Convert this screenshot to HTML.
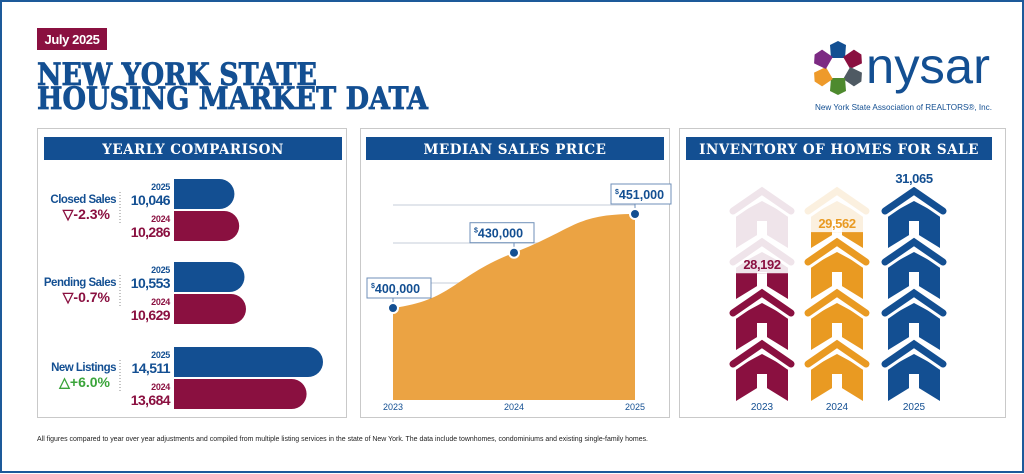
<!DOCTYPE html>
<html><head><meta charset="utf-8"><style>
html,body{margin:0;padding:0;background:#fff;}
svg{display:block;}
text{font-family:"Liberation Sans",sans-serif;}
.slab{font-family:"DejaVu Serif","Liberation Serif",serif;font-weight:bold;}
</style></head><body>
<svg id="root" width="1024" height="474" viewBox="0 0 1024 474" xmlns="http://www.w3.org/2000/svg">
<rect x="1" y="1" width="1022" height="471" fill="#fff" stroke="#1d5a9a" stroke-width="2"/>
<g>
<rect x="37" y="28" width="70" height="22" fill="#8a1040"/>
<text x="72" y="44" fill="#fff" font-size="13" font-weight="bold" text-anchor="middle" letter-spacing="-0.4">July 2025</text>
</g>
<g fill="#134f92" stroke="#134f92" stroke-width="0.8">
<text class="slab" x="37" y="85" font-size="31" textLength="280" lengthAdjust="spacingAndGlyphs">NEW YORK STATE</text>
<text class="slab" x="37" y="109" font-size="31" textLength="391" lengthAdjust="spacingAndGlyphs">HOUSING MARKET DATA</text>
</g>
<g>
<g id="petals"></g>
<text x="866" y="83" font-size="50" fill="#134f92" textLength="124" lengthAdjust="spacingAndGlyphs">nysar</text>
<text x="815" y="110" font-size="8.2" fill="#134f92" textLength="177" lengthAdjust="spacingAndGlyphs">New York State Association of REALTORS®, Inc.</text>
</g>
<g>
<rect x="37.5" y="128.5" width="309" height="289" fill="#fff" stroke="#c9c9c9"/>
<rect x="44" y="137" width="298" height="23" fill="#134f92"/>
<text class="slab" x="193" y="154" font-size="13.5" fill="#fff" text-anchor="middle" letter-spacing="0.5">YEARLY COMPARISON</text>
<g id="yc"></g>
</g>
<g>
<rect x="360.5" y="128.5" width="309" height="289" fill="#fff" stroke="#c9c9c9"/>
<rect x="366" y="137" width="298" height="23" fill="#134f92"/>
<text class="slab" x="515" y="154" font-size="13.5" fill="#fff" text-anchor="middle" letter-spacing="0.5">MEDIAN SALES PRICE</text>
<g id="msp"></g>
</g>
<g>
<rect x="679.5" y="128.5" width="326" height="289" fill="#fff" stroke="#c9c9c9"/>
<rect x="686" y="137" width="306" height="23" fill="#134f92"/>
<text class="slab" x="839" y="154" font-size="13.5" fill="#fff" text-anchor="middle" letter-spacing="0.5">INVENTORY OF HOMES FOR SALE</text>
<g id="inv"></g>
</g>
<text x="37" y="441" font-size="7.6" fill="#222" textLength="611" lengthAdjust="spacingAndGlyphs">All figures compared to year over year adjustments and compiled from multiple listing services in the state of New York.  The data include townhomes, condominiums and existing single-family homes.</text>
</svg>
<script>
// ---- Yearly comparison data ----
const ycMetrics = ["Closed Sales","Pending Sales","New Listings"];
const ycValues2025 = [10046,10553,14511];
const ycValues2024 = [10286,10629,13684];
const ycLabels2025 = ["10,046","10,553","14,511"];
const ycLabels2024 = ["10,286","10,629","13,684"];
const ycChange = ["-2.3%","-0.7%","+6.0%"];
// ---- Median sales price data ----
const mspYears = ["2023","2024","2025"];
const mspValues = [400000,430000,451000];
const mspLabels = ["400,000","430,000","451,000"];
// ---- Inventory data ----
const invYears = ["2023","2024","2025"];
const invValues = [28192,29562,31065];
const invLabels = ["28,192","29,562","31,065"];

const NS="http://www.w3.org/2000/svg";
function mk(tag,attrs,parent){const e=document.createElementNS(NS,tag);for(const k in attrs)e.setAttribute(k,attrs[k]);if(parent)parent.appendChild(e);return e;}
const BLUE="#134f92",MAROON="#8a1040",ORANGE="#e99a22";

// logo petals
(function(){
  const g=document.getElementById('petals');
  const cols=["#134f92","#8a1040","#4f5a63","#4e8a2e","#ee9a2a","#7c2a83"];
  const cx=838,cy=68;
  for(let i=0;i<6;i++){
    const a=(-90+i*60)*Math.PI/180;
    const px=cx+17*Math.cos(a),py=cy+17*Math.sin(a);
    const p=mk('path',{d:`M${px-8},${py-6}L${px},${py-10}L${px+8},${py-6}L${px+7},${py+7}L${px-7},${py+7}Z`,fill:cols[i],transform:`rotate(${i*60} ${px} ${py})`},g);
    
    
  }
})();

// yearly comparison bars
(function(){
  const g=document.getElementById('yc');
  const x0=174, dMin=7000, dMax=14511, wMax=149;
  const xs=v=>(v-dMin)/(dMax-dMin)*wMax;
  const groupTop=[179,262,347];
  ycMetrics.forEach((m,i)=>{
    const t=groupTop[i];
    [[ycValues2025[i],ycLabels2025[i],"2025",BLUE,t],[ycValues2024[i],ycLabels2024[i],"2024",MAROON,t+32]].forEach(([v,l,y,c,top])=>{
      const w=xs(v),h=30,r=15;
      const b=mk('path',{d:`M${x0},${top}H${x0+w-r}A${r},${r} 0 0 1 ${x0+w-r},${top+h}H${x0}Z`,fill:c},g);
      
      
      const yt=mk('text',{x:170,y:top+11,'font-size':9,'font-weight':'bold',fill:c,'text-anchor':'end','letter-spacing':'-0.3'},g);yt.textContent=y;
      
      
      const vt=mk('text',{x:170,y:top+26,'font-size':14,'font-weight':'bold',fill:c,'text-anchor':'end','letter-spacing':'-0.6'},g);vt.textContent=l;
      
      
    });
    const cy=t+30;
    const mt=mk('text',{x:116,y:cy-6,'font-size':11.5,'font-weight':'bold',fill:BLUE,'text-anchor':'end','letter-spacing':'-0.5'},g);mt.textContent=m;
    
    
    const up=ycChange[i][0]==='+';
    const ct=mk('text',{x:110,y:cy+10,'font-size':14,'font-weight':'bold',fill:up?'#3aa43a':MAROON,'text-anchor':'end'},g);ct.textContent=(up?'△':'▽')+ycChange[i];
    
    
    const dl=mk('line',{x1:120,y1:cy-17,x2:120,y2:cy+15,stroke:'#888','stroke-dasharray':'1 2'},g);
    
    
  });
})();

// median sales price area
(function(){
  const g=document.getElementById('msp');
  const xL=393,xR=635,yB=400;
  const xs=i=>xL+i*(xR-xL)/(mspYears.length-1);
  const ys=v=>308-(v-400000)*(94/51000);
  [205,243,283,322,360].forEach(y=>{const l=mk('line',{x1:393,y1:y,x2:635,y2:y,stroke:'#d8dde6','stroke-width':1.5},g);});
  const pts=mspValues.map((v,i)=>[xs(i),ys(v)]);
  let d=`M${pts[0][0]},${yB}L${pts[0][0]},${pts[0][1]}`;
  for(let i=0;i<pts.length-1;i++){
    const [x1,y1]=pts[i],[x2,y2]=pts[i+1],dx=(x2-x1)/2;
    const m1=i===0?(y2-y1)*0.3:(pts[i+1][1]-pts[i-1][1])/2;
    const m2=i===pts.length-2?0:(pts[i+2]?(pts[i+2][1]-y1)/2:0);
    d+=`C${x1+dx},${y1+m1*0.5} ${x2-dx},${y2-m2*0.5} ${x2},${y2}`;
  }
  d+=`L${pts[pts.length-1][0]},${yB}Z`;
  const a=mk('path',{d,fill:'#eba343'},g);
  
  
  pts.forEach(([x,y],i)=>{
    const by=y-30;
    const bxx=i===0?x-26:(i===1?x-44:x-24);
    const bg=mk('g',{},g);
    
    
    mk('rect',{x:bxx,y:by,width:i===2?60:64,height:20,fill:'#fff',stroke:'#6f8fb8','stroke-width':1},bg);
    mk('line',{x1:x,y1:by+20,x2:x,y2:y,stroke:'#6f8fb8'},bg);
    const t=mk('text',{x:bxx+4,y:by+15,'font-size':12.5,'font-weight':'bold',fill:BLUE},bg);
    const s=mk('tspan',{'font-size':7,dy:-5},t);s.textContent='$';
    const v=mk('tspan',{dy:5},t);v.textContent=mspLabels[i];
    const c=mk('circle',{cx:x,cy:y,r:5,fill:BLUE,stroke:'#fff','stroke-width':2},g);
    
    
    const yl=mk('text',{x:x,y:410,'font-size':9,fill:BLUE,'text-anchor':'middle'},g);yl.textContent=mspYears[i];
    
    
  });
})();

// inventory houses
(function(){
  const g=document.getElementById('inv');
  const cxs=[762,837,914], yTop=187, step=51, n=4, yBot=398;
  const v0=24032, k=0.03;
  const fillTop=v=>yBot-(v-v0)*k;
  const cols=[MAROON,ORANGE,BLUE], faded=["#efe4ea","#fbf0df","#dfe7f2"];
  function house(parent,cx,y0,col){
    mk('path',{d:`M${cx-26},${y0+28}L${cx},${y0+14}L${cx+26},${y0+28}V${y0+61}L${cx},${y0+45}L${cx-26},${y0+61}Z`,fill:col},parent);
    mk('rect',{x:cx-5,y:y0+34,width:10,height:14,fill:'#fff'},parent);
    mk('polyline',{points:`${cx-29},${y0+24} ${cx},${y0+4} ${cx+29},${y0+24}`,fill:'none',stroke:'#fff','stroke-width':13,'stroke-linecap':'round','stroke-linejoin':'round'},parent);
    mk('polyline',{points:`${cx-29},${y0+24} ${cx},${y0+4} ${cx+29},${y0+24}`,fill:'none',stroke:col,'stroke-width':7,'stroke-linecap':'round','stroke-linejoin':'miter'},parent);
  }
  invValues.forEach((v,i)=>{
    const cx=cxs[i];
    const col=mk('g',{},g);
    
    
    const fg=mk('g',{},col);
    for(let j=0;j<n;j++)house(fg,cx,yTop+j*step,faded[i]);
    const ft=fillTop(v);
    const clip=mk('clipPath',{id:'clip'+i},col);
    mk('rect',{x:cx-40,y:ft,width:80,height:yBot-ft+5},clip);
    const cg=mk('g',{'clip-path':`url(#clip${i})`},col);
    
    
    for(let j=0;j<n;j++)house(cg,cx,yTop+j*step,cols[i]);
    const lt=mk('text',{x:cx,y:ft-4,'font-size':13,'font-weight':'bold',fill:cols[i],'text-anchor':'middle','letter-spacing':'-0.4'},col);lt.textContent=invLabels[i];
    
    
    const yl=mk('text',{x:cx,y:410,'font-size':10,fill:BLUE,'text-anchor':'middle'},col);yl.textContent=invYears[i];
    
    
  });
})();
</script>
</body></html>
